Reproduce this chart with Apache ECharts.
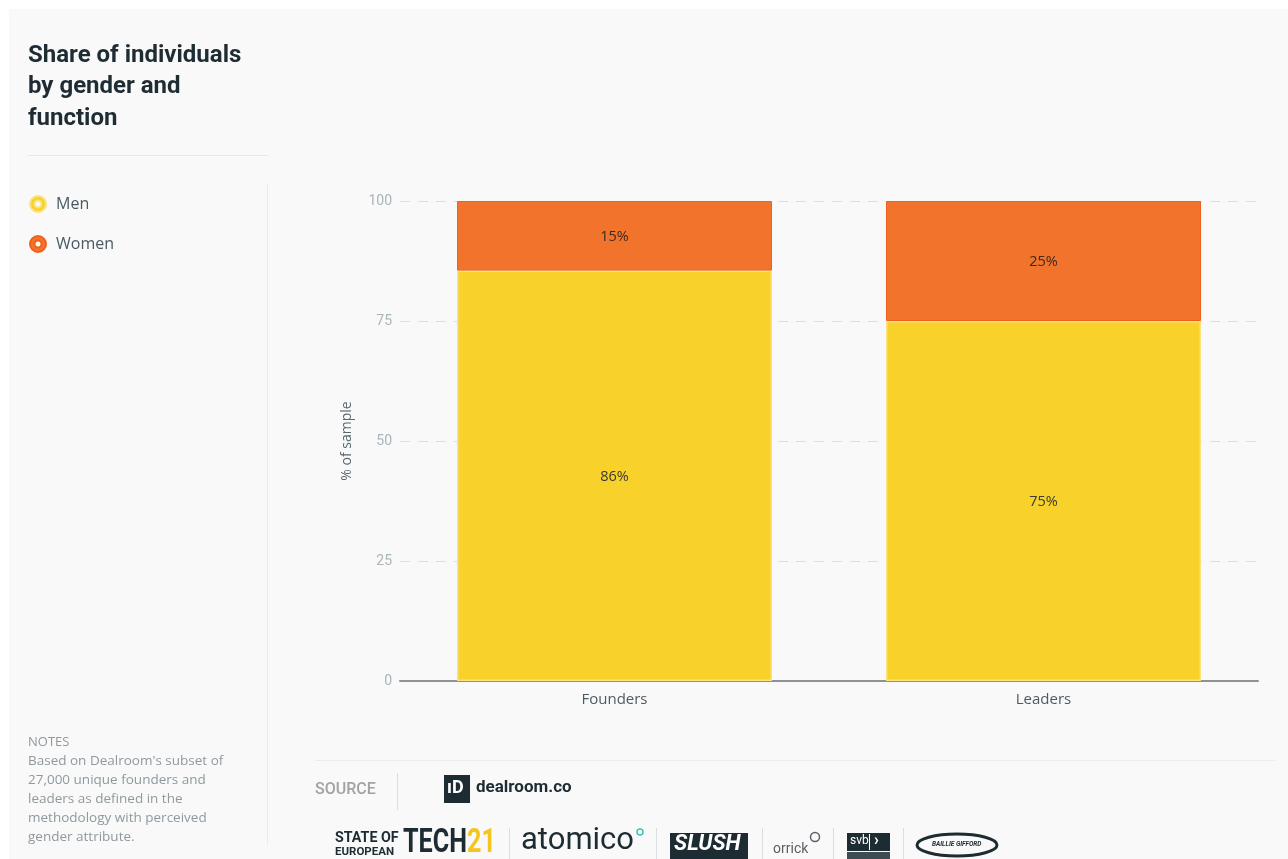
<!DOCTYPE html>
<html>
<head>
<meta charset="utf-8">
<script src="https://cdn.jsdelivr.net/npm/echarts@6/dist/echarts.min.js"></script>
<style>
  html, body { margin: 0; padding: 0; background: #ffffff; }
  #chart { width: 1288px; height: 859px; }
</style>
</head>
<body>
<div id="chart"></div>
<script>
const categories = ['Founders', 'Leaders'];
const menValues = [85.5, 75];
const womenValues = [14.5, 25];
const yTicks = [0, 25, 50, 75, 100];
const seriesNames = ['Men', 'Women'];
const titleLines = ['Share of individuals', 'by gender and', 'function'];
const noteLines = ['Based on Dealroom\'s subset of', '27,000 unique founders and', 'leaders as defined in the', 'methodology with perceived', 'gender attribute.'];

const FONT = 'Roboto, "Noto Sans", sans-serif';
const WIDE = '"Open Sans", Roboto, sans-serif';
const DARK = '#1d2b33';
const RING = 'path://M8,0A8,8,0,1,1,8,16A8,8,0,1,1,8,0ZM8,4.5A3.5,3.5,0,1,0,8,11.5A3.5,3.5,0,1,0,8,4.5Z';

const chart = echarts.init(document.getElementById('chart'), null, { renderer: 'canvas' });

const option = {
  backgroundColor: '#ffffff',
  textStyle: { fontFamily: FONT },
  animation: false,
  legend: {
    orient: 'vertical',
    left: 29,
    top: 195,
    padding: 0,
    itemGap: 22,
    itemWidth: 16,
    itemHeight: 16,
    icon: RING,
    data: seriesNames,
    textStyle: { fontSize: 16, color: '#4a5a63', padding: [0, 0, 0, 5], fontFamily: WIDE }
  },
  grid: { left: 400, right: 30, top: 201, bottom: 178, containLabel: false },
  xAxis: {
    type: 'category',
    data: categories,
    axisLine: { show: true, lineStyle: { color: '#8d9295', width: 2 } },
    axisTick: { show: false },
    axisLabel: { color: '#4c5b63', fontSize: 15, margin: 11, fontFamily: WIDE }
  },
  yAxis: {
    type: 'value',
    min: yTicks[0],
    max: yTicks[yTicks.length - 1],
    interval: yTicks[1] - yTicks[0],
    name: '% of sample',
    nameLocation: 'middle',
    nameRotate: 90,
    nameGap: 46,
    nameTextStyle: { color: '#5a6870', fontSize: 14, fontFamily: WIDE },
    axisLine: { show: false },
    axisTick: { show: false },
    axisLabel: { color: '#a8b5bb', fontSize: 14, margin: 8, fontFamily: FONT },
    splitLine: { show: true, lineStyle: { color: '#dadfe2', type: [10, 8], width: 1 } }
  },
  series: [
    {
      name: seriesNames[0],
      type: 'bar',
      stack: 'total',
      data: menValues,
      barWidth: 315,
      itemStyle: { color: '#f8d22b', borderColor: '#fbe27c', borderWidth: 1.5 },
      label: {
        show: true, position: 'inside', color: '#3a3a30', fontSize: 14.5, fontFamily: WIDE, offset: [0, 1],
        formatter: p => Math.round(p.value) + '%'
      }
    },
    {
      name: seriesNames[1],
      type: 'bar',
      stack: 'total',
      data: womenValues,
      barWidth: 315,
      itemStyle: { color: '#f2742c', borderColor: '#f0611c', borderWidth: 1 },
      label: {
        show: true, position: 'inside', color: '#3a2a20', fontSize: 14.5, fontFamily: WIDE, offset: [0, 1],
        formatter: p => Math.round(p.value) + '%'
      }
    }
  ],
  graphic: [
    { type: 'rect', z: -10, silent: true, shape: { x: 9, y: 9, width: 1279, height: 850 }, style: { fill: '#f9f9f9' } },
    {
      type: 'text', left: 28, top: 40, silent: true,
      style: { text: titleLines.join('\n'), fontSize: 24, fontWeight: 'bold', lineHeight: 31.5, fill: '#1e2c33', fontFamily: FONT }
    },
    { type: 'line', silent: true, shape: { x1: 28, y1: 155.5, x2: 268, y2: 155.5 }, style: { stroke: '#e8e8e8', lineWidth: 1 } },
    { type: 'line', silent: true, shape: { x1: 267.5, y1: 183, x2: 267.5, y2: 845 }, style: { stroke: '#ebebeb', lineWidth: 1 } },
    {
      type: 'text', left: 28, top: 736, silent: true,
      style: { text: 'NOTES', fontSize: 13, fill: '#8f999e', fontFamily: WIDE }
    },
    {
      type: 'text', left: 28, top: 752, silent: true,
      style: { text: noteLines.join('\n'), fontSize: 13.5, lineHeight: 19, fill: '#8f999e', fontFamily: WIDE }
    },
    { type: 'line', silent: true, shape: { x1: 315, y1: 760.5, x2: 1275, y2: 760.5 }, style: { stroke: '#ececec', lineWidth: 1 } },
    {
      type: 'text', left: 315, top: 782, silent: true,
      style: { text: 'SOURCE', fontSize: 16, fontWeight: 500, fill: '#a3a3a3', fontFamily: FONT }
    },
    { type: 'line', silent: true, shape: { x1: 397.5, y1: 773, x2: 397.5, y2: 810 }, style: { stroke: '#dddddd', lineWidth: 1 } },
    { type: 'rect', silent: true, shape: { x: 444, y: 775, width: 26, height: 28 }, style: { fill: DARK } },
    {
      type: 'text', left: 447, top: 779, silent: true,
      style: { text: 'ıD', fontSize: 18, fontWeight: 'bold', fill: '#ffffff', fontFamily: FONT }
    },
    {
      type: 'text', left: 476, top: 779, silent: true,
      style: { text: 'dealroom.co', fontSize: 17, fontWeight: 'bold', fill: DARK, fontFamily: FONT }
    },
    {
      type: 'text', x: 335, y: 831, scaleX: 0.95, silent: true,
      style: { x: 0, y: 0, verticalAlign: 'top', text: 'STATE OF', fontSize: 15, fontWeight: 'bold', fill: DARK, fontFamily: FONT }
    },
    {
      type: 'text', x: 335, y: 846, scaleX: 1.0, silent: true,
      style: { x: 0, y: 0, verticalAlign: 'top', text: 'EUROPEAN', fontSize: 11.5, fontWeight: 'bold', fill: DARK, fontFamily: FONT }
    },
    {
      type: 'text', x: 403, y: 826, scaleX: 0.74, silent: true,
      style: {
        x: 0, y: 0, verticalAlign: 'top',
        text: '{a|TECH}{b|21}',
        rich: {
          a: { fontSize: 34, fontWeight: 'bold', fill: DARK, fontFamily: FONT },
          b: { fontSize: 34, fontWeight: 'bold', fill: '#f4c51c', fontFamily: FONT }
        }
      }
    },
    { type: 'line', silent: true, shape: { x1: 509.5, y1: 828, x2: 509.5, y2: 859 }, style: { stroke: '#dddddd', lineWidth: 1 } },
    {
      type: 'text', left: 521, top: 826, silent: true,
      style: { text: 'atomico', fontSize: 31, fill: DARK, fontFamily: FONT }
    },
    { type: 'circle', silent: true, shape: { cx: 640, cy: 832, r: 3 }, style: { fill: 'none', stroke: '#3cc6b5', lineWidth: 1.5 } },
    { type: 'line', silent: true, shape: { x1: 656.5, y1: 828, x2: 656.5, y2: 859 }, style: { stroke: '#dddddd', lineWidth: 1 } },
    { type: 'rect', silent: true, shape: { x: 670, y: 833, width: 78, height: 26 }, style: { fill: DARK } },
    {
      type: 'text', left: 674, top: 833, silent: true,
      style: { text: 'SLUSH', fontSize: 22, fontWeight: 'bold', fontStyle: 'italic', fill: '#ffffff', fontFamily: FONT }
    },
    { type: 'line', silent: true, shape: { x1: 762.5, y1: 828, x2: 762.5, y2: 859 }, style: { stroke: '#dddddd', lineWidth: 1 } },
    {
      type: 'text', left: 773, top: 842, silent: true,
      style: { text: 'orrick', fontSize: 14, fill: '#5a6066', fontFamily: FONT }
    },
    { type: 'circle', silent: true, shape: { cx: 815, cy: 837, r: 4.5 }, style: { fill: 'none', stroke: '#5a6066', lineWidth: 1.5 } },
    { type: 'line', silent: true, shape: { x1: 833.5, y1: 828, x2: 833.5, y2: 859 }, style: { stroke: '#dddddd', lineWidth: 1 } },
    { type: 'rect', silent: true, shape: { x: 847, y: 833, width: 43, height: 18 }, style: { fill: DARK } },
    { type: 'rect', silent: true, shape: { x: 847, y: 852, width: 43, height: 7 }, style: { fill: '#3d4b52' } },
    { type: 'line', silent: true, shape: { x1: 869.5, y1: 834, x2: 869.5, y2: 850 }, style: { stroke: '#ffffff', lineWidth: 1 } },
    {
      type: 'text', left: 850, top: 835, silent: true,
      style: { text: 'svb', fontSize: 12, fill: '#ffffff', fontFamily: FONT }
    },
    {
      type: 'text', left: 874, top: 833, silent: true,
      style: { text: '›', fontSize: 16, fontWeight: 'bold', fill: '#ffffff', fontFamily: FONT }
    },
    { type: 'line', silent: true, shape: { x1: 903.5, y1: 828, x2: 903.5, y2: 859 }, style: { stroke: '#dddddd', lineWidth: 1 } },
    { type: 'ellipse', silent: true, shape: { cx: 957, cy: 845, rx: 40, ry: 11 }, style: { fill: 'none', stroke: DARK, lineWidth: 3 } },
    {
      type: 'text', left: 932, top: 841, silent: true,
      style: { text: 'BAILLIE GIFFORD', fontSize: 6.5, fontWeight: 'bold', fontStyle: 'italic', fill: DARK, fontFamily: FONT }
    }
  ]
};

chart.setOption(option);
</script>
</body>
</html>
